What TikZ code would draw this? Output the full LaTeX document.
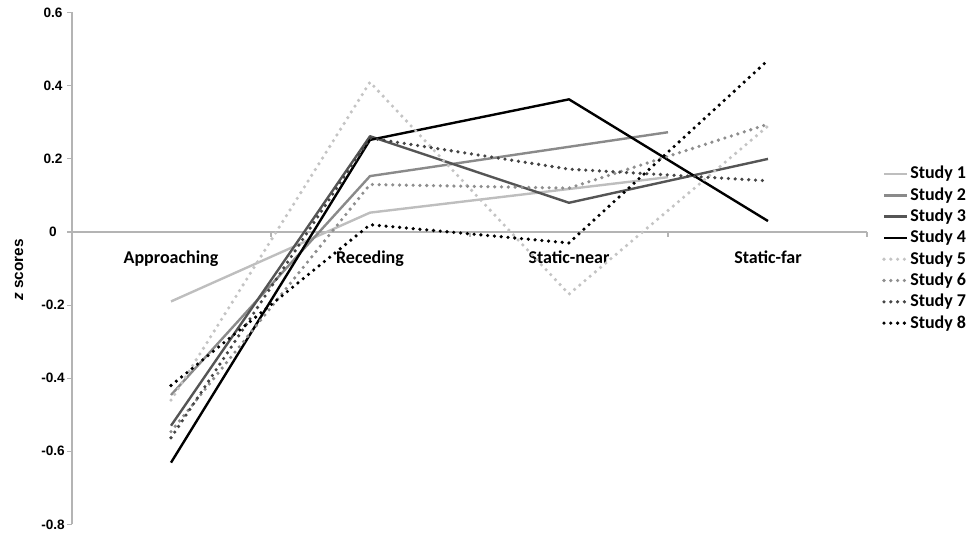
\documentclass[tikz,border=0pt]{standalone}
\usepackage{fontspec}
\setmainfont{Carlito}
\newfontfamily\arialfont{Liberation Sans}
\definecolor{axisgray}{HTML}{B4B4B4}
\definecolor{cA}{HTML}{BEBEBE}
\definecolor{cB}{HTML}{8A8A8A}
\definecolor{cC}{HTML}{555555}
\definecolor{cD}{HTML}{000000}
\definecolor{cE}{HTML}{C4C4C4}
\definecolor{cF}{HTML}{8E8E8E}
\definecolor{cG}{HTML}{454545}
\definecolor{cH}{HTML}{000000}
\begin{document}
\begin{tikzpicture}[x=0.75pt,y=-0.75pt,
  axisline/.style={draw=axisgray,line width=0.8pt},
  solidser/.style={line width=1.8pt,line join=round},
  dotser/.style={line width=2.7pt,line cap=round,line join=round,dash pattern=on 0pt off 5.1pt},
  ticklab/.style={font=\arialfont\bfseries\fontsize{10.2}{12}\selectfont,inner sep=0pt},
  catlab/.style={font=\bfseries\fontsize{13.5}{16}\selectfont,inner sep=0pt,anchor=base},
  leglab/.style={font=\bfseries\fontsize{13.5}{16}\selectfont,inner sep=0pt,anchor=west}]
\useasboundingbox (0,0) rectangle (972,537);
% axes
\coordinate (ytop) at (72,12);
\coordinate (ybot) at (72,524);
\coordinate (xl) at (72,232);
\coordinate (xr) at (867,232);
\draw[axisline] (ytop) -- (ybot);
\draw[axisline] (xl) -- (xr);
\foreach \v/\lab [count=\i] in {0.6/0.6,0.4/0.4,0.2/0.2,0/0,-0.2/-0.2,-0.4/-0.4,-0.6/-0.6,-0.8/-0.8}{
  \coordinate (yt\i) at (72,{232-365.5*\v});
  \draw[axisline] (yt\i) -- ++(-5,0);
  \node[ticklab] (ylab\i) at (53,{232-365.5*\v}) {\lab};
}
\foreach \x [count=\i] in {271,470,668,867}{
  \coordinate (xt\i) at (\x,232);
  \draw[axisline] (xt\i) -- ++(0,5);
}
\node[rotate=90,font=\arialfont\bfseries\fontsize{11.5}{13}\selectfont,inner sep=0pt] (ylabel) at (19,270) {\textit{z} scores};
% category labels
\node[catlab] (c1) at (171,263) {Approaching};
\node[catlab] (c2) at (370,263) {Receding};
\node[catlab] (c3) at (569,263) {Static-near};
\node[catlab] (c4) at (768,263) {Static-far};
% data
\begin{scope}[shift={(0,232)},yscale=-365.5]
\draw[solidser,cA] (171,-0.19) -- (370,0.053) -- (668,0.15);
\draw[solidser,cB] (171,-0.446) -- (370,0.153) -- (668,0.273);
\draw[solidser,cC] (171,-0.53) -- (370,0.262) -- (569,0.08) -- (768,0.20);
\draw[solidser,cD] (171,-0.631) -- (370,0.252) -- (569,0.363) -- (768,0.03);
\draw[dotser,cE] (171,-0.46) -- (370,0.41) -- (569,-0.17) -- (768,0.29);
\draw[dotser,cF] (171,-0.546) -- (370,0.13) -- (569,0.12) -- (768,0.295);
\draw[dotser,cG] (171,-0.563) -- (370,0.257) -- (569,0.172) -- (768,0.14);
\draw[dotser,cH] (171,-0.42) -- (370,0.02) -- (569,-0.03) -- (768,0.47);
\end{scope}
% legend
\foreach \st/\col [count=\i] in {solidser/cA,solidser/cB,solidser/cC,solidser/cD,dotser/cE,dotser/cF,dotser/cG,dotser/cH}{
  \coordinate (la\i) at (884,{174+21.3*(\i-1)});
  \coordinate (lb\i) at (907,{174+21.3*(\i-1)});
  \draw[\st,\col] (la\i) -- (lb\i);
  \node[leglab] (lt\i) at (910,{174+21.3*(\i-1)}) {Study \i};
}
\end{tikzpicture}
\end{document}
